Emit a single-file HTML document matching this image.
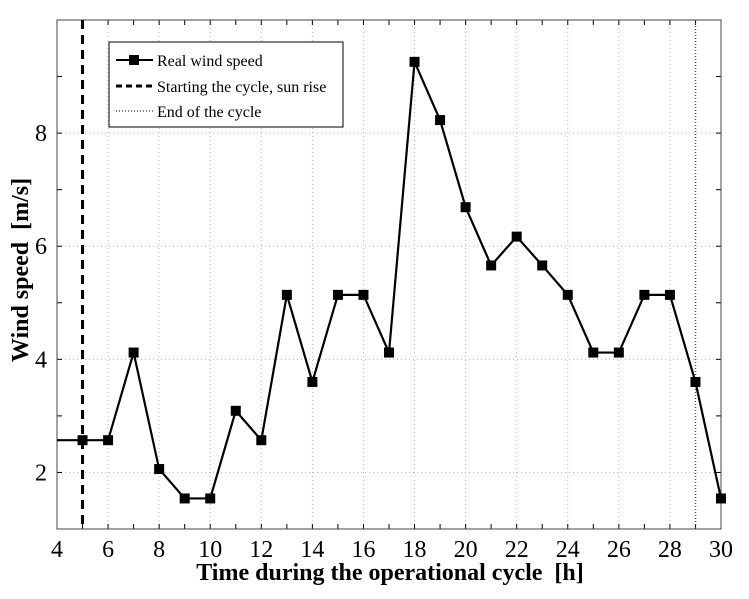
<!DOCTYPE html>
<html><head><meta charset="utf-8"><style>
body{margin:0;background:#fff}
text{font-family:"Liberation Serif",serif;white-space:pre}
</style></head><body>
<svg id="chart" width="749" height="594" xmlns="http://www.w3.org/2000/svg">
<g id="grid"></g>
<g id="axes"></g>
<g id="series"></g>
<text x="390" y="580" text-anchor="middle" font-size="24" font-weight="bold" xml:space="preserve">Time during the operational cycle  [h]</text>
<text transform="translate(28,270) rotate(-90)" text-anchor="middle" font-size="24" font-weight="bold" xml:space="preserve">Wind speed  [m/s]</text>
<g>
<rect x="109" y="42" width="234" height="85" fill="#fff" stroke="#000" stroke-width="1"/>
<line x1="116" y1="60" x2="153" y2="60" stroke="#000" stroke-width="2"/>
<rect x="129" y="55" width="10" height="10" fill="#000"/>
<text x="157" y="66" font-size="16">Real wind speed</text>
<line x1="116" y1="86" x2="153" y2="86" stroke="#000" stroke-width="3" stroke-dasharray="6,4"/>
<text x="157" y="92" font-size="16">Starting the cycle, sun rise</text>
<line x1="116" y1="111" x2="153" y2="111" stroke="#555" stroke-width="1.5" stroke-dasharray="1,2"/>
<text x="157" y="117" font-size="16">End of the cycle</text>
</g>
</svg>
<script>
const hours=[4,5,6,7,8,9,10,11,12,13,14,15,16,17,18,19,20,21,22,23,24,25,26,27,28,29,30];
const speeds=[2.57,2.57,2.57,4.12,2.06,1.54,1.54,3.09,2.57,5.14,3.6,5.14,5.14,4.12,9.26,8.23,6.69,5.66,6.17,5.66,5.14,4.12,4.12,5.14,5.14,3.6,1.54];
const xTicks=[4,6,8,10,12,14,16,18,20,22,24,26,28,30];
const yTicks=[2,4,6,8];
const startHour=5, endHour=29;
const X0=57,X1=721,Y0=529,Y1=20,xmin=4,xmax=30,ymin=1,ymax=10;
const sx=v=>X0+(v-xmin)/(xmax-xmin)*(X1-X0);
const sy=v=>Y0-(v-ymin)/(ymax-ymin)*(Y0-Y1);
const NS="http://www.w3.org/2000/svg";
function mk(p,t,a){const e=document.createElementNS(NS,t);for(const k in a)e.setAttribute(k,a[k]);p.appendChild(e);return e;}
const grid=document.getElementById('grid'),axes=document.getElementById('axes'),ser=document.getElementById('series');
xTicks.forEach(v=>{const l=mk(grid,'line',{x1:sx(v),x2:sx(v),y1:Y1,y2:Y0,stroke:'#bbb','stroke-dasharray':'1,3'});


const t=mk(axes,'text',{x:sx(v),y:Y0+28,'text-anchor':'middle','font-size':'24'});t.textContent=v;

});
yTicks.forEach(v=>{const l=mk(grid,'line',{x1:X0,x2:X1,y1:sy(v),y2:sy(v),stroke:'#bbb','stroke-dasharray':'1,3'});


const t=mk(axes,'text',{x:X0-10,y:sy(v)+8,'text-anchor':'end','font-size':'24'});t.textContent=v;

});
for(let v=xmin;v<=xmax;v++){mk(axes,'line',{x1:sx(v),x2:sx(v),y1:Y0,y2:Y0-5,stroke:'#000'});mk(axes,'line',{x1:sx(v),x2:sx(v),y1:Y1,y2:Y1+5,stroke:'#000'});}
for(let v=ymin;v<=ymax;v++){mk(axes,'line',{x1:X0,x2:X0+5,y1:sy(v),y2:sy(v),stroke:'#000'});mk(axes,'line',{x1:X1,x2:X1-5,y1:sy(v),y2:sy(v),stroke:'#000'});}
const fr=mk(axes,'rect',{x:X0,y:Y1,width:X1-X0,height:Y0-Y1,fill:'none',stroke:'#444','stroke-width':1});


const sl=mk(ser,'line',{x1:sx(startHour),x2:sx(startHour),y1:Y1,y2:Y0,stroke:'#000','stroke-width':3,'stroke-dasharray':'9,6'});


const el=mk(ser,'line',{x1:sx(endHour),x2:sx(endHour),y1:Y1,y2:Y0,stroke:'#555','stroke-width':1.5,'stroke-dasharray':'1,2'});


const pl=mk(ser,'polyline',{points:hours.map((h,i)=>sx(h)+','+sy(speeds[i])).join(' '),fill:'none',stroke:'#000','stroke-width':2.2});


hours.forEach((h,i)=>{if(i===0)return;const m=mk(ser,'rect',{x:sx(h)-5,y:sy(speeds[i])-5,width:10,height:10,fill:'#000'});

});
</script>
</body></html>
